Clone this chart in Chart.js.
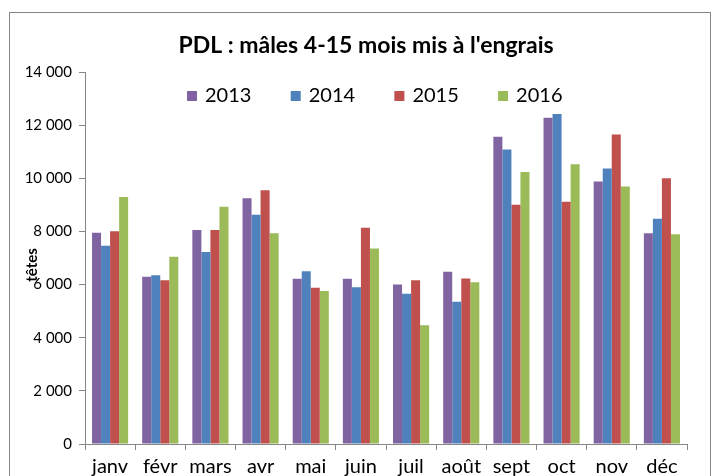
<!DOCTYPE html>
<html>
<head>
<meta charset="utf-8">
<script src="https://cdn.jsdelivr.net/npm/chart.js@4.4.1/dist/chart.umd.min.js"></script>
<style>
  html, body { margin: 0; padding: 0; background: #fff; overflow: hidden; width: 716px; height: 476px; }
  #frame { position: absolute; left: 9px; top: 12px; width: 700px; height: 500px; border: 1px solid #868686; }
  #chart { position: absolute; left: 0; top: 0; }
</style>
</head>
<body>
<div id="frame"></div>
<canvas id="chart" width="716" height="500"></canvas>
<script>
const months = ['janv', 'févr', 'mars', 'avr', 'mai', 'juin', 'juil', 'août', 'sept', 'oct', 'nov', 'déc'];
const years = ['2013', '2014', '2015', '2016'];
const v2013 = [7950, 6290, 8050, 9250, 6220, 6220, 6000, 6480, 11560, 12280, 9880, 7930];
const v2014 = [7460, 6350, 7230, 8630, 6500, 5900, 5650, 5350, 11080, 12420, 10370, 8480];
const v2015 = [8010, 6160, 8050, 9550, 5880, 8140, 6160, 6230, 9000, 9120, 11650, 10000];
const v2016 = [9300, 7050, 8930, 7930, 5760, 7360, 4470, 6090, 10240, 10530, 9690, 7890];
const colors = ['#8064A2', '#4F81BD', '#C0504D', '#9BBB59'];
const yMax = 14000;
const yStep = 2000;

const FONT = 'Lato, "Open Sans", sans-serif';
const TITLE = "PDL : mâles 4-15 mois mis à l'engrais";

// title, legend and axis title drawn over the plot, like the Excel original
const overlay = {
    id: 'overlay',
    afterDraw(chart) {
        const ctx = chart.ctx;
        ctx.save();
        ctx.fillStyle = '#000';
        ctx.textBaseline = 'middle';
        ctx.textAlign = 'center';
        ctx.font = 'bold 23px ' + FONT;
        ctx.fillText(TITLE, 366, 46);

        ctx.textAlign = 'left';
        ctx.font = '20px ' + FONT;
        chart.data.datasets.forEach((ds, i) => {
            const x = 187 + i * 103.7;
            ctx.fillStyle = ds.backgroundColor;
            ctx.fillRect(x, 91, 10, 10);
            ctx.fillStyle = '#000';
            ctx.fillText(ds.label, x + 18, 96);
        });

        ctx.font = 'bold 15px ' + FONT;
        ctx.translate(32, 265);
        ctx.rotate(-Math.PI / 2);
        ctx.textAlign = 'center';
        ctx.fillText('têtes', 0, 0);
        ctx.restore();
    }
};

const series = [v2013, v2014, v2015, v2016];

new Chart(document.getElementById('chart'), {
    type: 'bar',
    data: {
        labels: months,
        datasets: series.map((s, i) => ({
            label: years[i],
            data: s,
            backgroundColor: colors[i],
            borderWidth: 0,
            categoryPercentage: 0.72,
            barPercentage: 1
        }))
    },
    options: {
        responsive: false,
        animation: false,
        layout: { padding: { left: 20, right: 29, top: 72, bottom: 0 } },
        plugins: {
            legend: { display: false },
            tooltip: { enabled: false },
            title: { display: false }
        },
        scales: {
            x: {
                grid: { offset: true, drawOnChartArea: false, tickLength: 6, color: '#868686' },
                border: { color: '#868686' },
                ticks: { color: '#000', font: { family: FONT, size: 20 }, padding: 5, maxRotation: 0 },
                afterFit: s => { s.height = 56; }
            },
            y: {
                min: 0,
                max: yMax,
                grid: { drawOnChartArea: false, tickLength: 6, color: '#868686' },
                border: { color: '#868686' },
                ticks: {
                    stepSize: yStep,
                    color: '#000',
                    padding: 7,
                    font: { family: FONT, size: 15 },
                    callback: v => v.toLocaleString('fr-FR').replace(/\s/g, ' ')
                },
                afterFit: s => { s.width = 65; }
            }
        }
    },
    plugins: [overlay]
});
</script>
</body>
</html>
